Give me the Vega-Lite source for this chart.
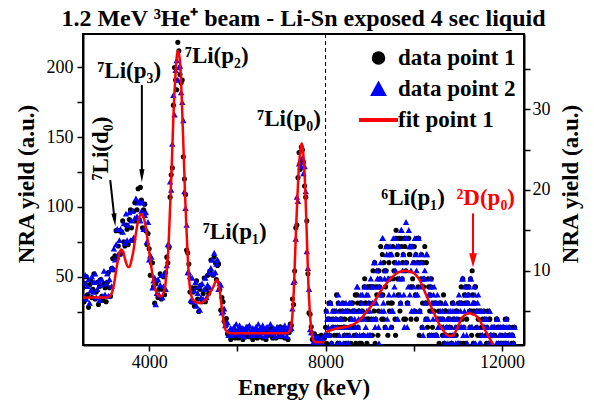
{
"$schema":"https://vega.github.io/schema/vega-lite/v6.json",
"width":441,"height":311,
"autosize":{"type":"none"},
"padding":{"left":83,"top":34,"right":70,"bottom":62},
"background":"white",
"title":{"text":"1.2 MeV ³He⁺ beam - Li-Sn exposed 4 sec liquid","font":"Liberation Serif","fontSize":24,"fontWeight":"bold","color":"black","anchor":"middle","offset":8,"baseline":"alphabetic","dy":24},
"config":{"font":"Liberation Serif","view":{"stroke":"black","strokeWidth":2},
"axis":{"domainColor":"black","domainWidth":2,"tickColor":"black","tickWidth":1.5,"labelColor":"black","labelFont":"Liberation Serif","labelFontSize":18,"titleFont":"Liberation Serif","titleFontSize":23,"titleFontWeight":"bold","titleColor":"black","grid":false,"labelOverlap":false,"labelFlush":false}},
"datasets":{
"L":[{"e":2500,"a":42,"b":37},{"e":2525,"a":32,"b":45},{"e":2550,"a":45,"b":51},{"e":2575,"a":50,"b":34},{"e":2600,"a":37,"b":43},{"e":2625,"a":28,"b":48},{"e":2650,"a":44,"b":31},{"e":2675,"a":47,"b":40},{"e":2700,"a":35,"b":50},{"e":2725,"a":41,"b":39},{"e":2750,"a":52,"b":46},{"e":2775,"a":34,"b":52},{"e":2800,"a":39,"b":35},{"e":2825,"a":46,"b":41},{"e":2850,"a":30,"b":47},{"e":2875,"a":43,"b":33},{"e":2900,"a":48,"b":44},{"e":2925,"a":36,"b":48},{"e":2950,"a":33,"b":36},{"e":2975,"a":45,"b":54},{"e":3000,"a":42,"b":37},{"e":3025,"a":32,"b":45},{"e":3050,"a":46,"b":52},{"e":3075,"a":53,"b":36},{"e":3100,"a":42,"b":48},{"e":3125,"a":36,"b":55},{"e":3150,"a":56,"b":43},{"e":3175,"a":63,"b":56},{"e":3200,"a":55,"b":70},{"e":3225,"a":65,"b":62},{"e":3250,"a":83,"b":73},{"e":3275,"a":63,"b":84},{"e":3300,"a":72,"b":66},{"e":3325,"a":83,"b":76},{"e":3350,"a":66,"b":84},{"e":3375,"a":82,"b":68},{"e":3400,"a":90,"b":82},{"e":3425,"a":75,"b":88},{"e":3450,"a":72,"b":74},{"e":3475,"a":87,"b":95},{"e":3500,"a":84,"b":76},{"e":3525,"a":73,"b":87},{"e":3550,"a":91,"b":96},{"e":3575,"a":98,"b":76},{"e":3600,"a":85,"b":90},{"e":3625,"a":76,"b":97},{"e":3650,"a":97,"b":78},{"e":3675,"a":103,"b":92},{"e":3700,"a":90,"b":106},{"e":3725,"a":98,"b":93},{"e":3750,"a":113,"b":103},{"e":3775,"a":91,"b":104},{"e":3800,"a":114,"b":90},{"e":3825,"a":105,"b":97},{"e":3850,"a":85,"b":103},{"e":3875,"a":98,"b":84},{"e":3900,"a":102,"b":94},{"e":3925,"a":83,"b":96},{"e":3950,"a":73,"b":75},{"e":3975,"a":81,"b":89},{"e":4000,"a":70,"b":62},{"e":4025,"a":51,"b":65},{"e":4050,"a":60,"b":64},{"e":4075,"a":60,"b":42},{"e":4100,"a":43,"b":47},{"e":4125,"a":31,"b":49},{"e":4150,"a":45,"b":30},{"e":4175,"a":47,"b":38},{"e":4200,"a":35,"b":48},{"e":4225,"a":41,"b":37},{"e":4250,"a":52,"b":44},{"e":4275,"a":34,"b":51},{"e":4300,"a":41,"b":35},{"e":4325,"a":50,"b":43},{"e":4350,"a":37,"b":52},{"e":4375,"a":53,"b":41},{"e":4400,"a":64,"b":58},{"e":4425,"a":60,"b":73},{"e":4450,"a":71,"b":73},{"e":4475,"a":107,"b":118},{"e":4500,"a":123,"b":112},{"e":4525,"a":128,"b":145},{"e":4550,"a":173,"b":180},{"e":4575,"a":200,"b":166},{"e":4600,"a":191,"b":198},{"e":4625,"a":184,"b":205},{"e":4650,"a":218,"b":191},{"e":4675,"a":212,"b":200},{"e":4700,"a":195,"b":201},{"e":4725,"a":189,"b":182},{"e":4750,"a":191,"b":175},{"e":4775,"a":136,"b":162},{"e":4800,"a":120,"b":111},{"e":4825,"a":109,"b":99},{"e":4850,"a":69,"b":87},{"e":4875,"a":67,"b":53},{"e":4900,"a":59,"b":53},{"e":4925,"a":39,"b":50},{"e":4950,"a":32,"b":33},{"e":4975,"a":42,"b":49},{"e":5000,"a":39,"b":32},{"e":5025,"a":29,"b":40},{"e":5050,"a":42,"b":46},{"e":5075,"a":47,"b":29},{"e":5100,"a":34,"b":38},{"e":5125,"a":25,"b":43},{"e":5150,"a":41,"b":26},{"e":5175,"a":44,"b":35},{"e":5200,"a":32,"b":45},{"e":5225,"a":38,"b":34},{"e":5250,"a":49,"b":41},{"e":5275,"a":32,"b":49},{"e":5300,"a":41,"b":35},{"e":5325,"a":51,"b":44},{"e":5350,"a":38,"b":53},{"e":5375,"a":54,"b":42},{"e":5400,"a":62,"b":56},{"e":5425,"a":52,"b":62},{"e":5450,"a":51,"b":52},{"e":5475,"a":64,"b":67},{"e":5500,"a":60,"b":53},{"e":5525,"a":48,"b":59},{"e":5550,"a":58,"b":62},{"e":5575,"a":59,"b":41},{"e":5600,"a":41,"b":45},{"e":5625,"a":26,"b":44},{"e":5650,"a":35,"b":24},{"e":5675,"a":32,"b":25},{"e":5700,"a":18,"b":27},{"e":5725,"a":17,"b":15},{"e":5750,"a":20,"b":16},{"e":5775,"a":9,"b":17},{"e":5800,"a":10,"b":8},{"e":5825,"a":11,"b":11},{"e":5850,"a":5,"b":13},{"e":5875,"a":10,"b":8},{"e":5900,"a":12,"b":12},{"e":5925,"a":8,"b":14},{"e":5950,"a":6,"b":9},{"e":5975,"a":11,"b":16},{"e":6000,"a":10,"b":9},{"e":6025,"a":6,"b":12},{"e":6050,"a":11,"b":15},{"e":6075,"a":13,"b":8},{"e":6100,"a":8,"b":12},{"e":6125,"a":5,"b":13},{"e":6150,"a":11,"b":7},{"e":6175,"a":12,"b":10},{"e":6200,"a":7,"b":14},{"e":6225,"a":9,"b":10},{"e":6250,"a":14,"b":13},{"e":6275,"a":7,"b":15},{"e":6300,"a":9,"b":8},{"e":6325,"a":11,"b":11},{"e":6350,"a":5,"b":13},{"e":6375,"a":10,"b":8},{"e":6400,"a":12,"b":12},{"e":6425,"a":8,"b":14},{"e":6450,"a":6,"b":9},{"e":6475,"a":11,"b":16},{"e":6500,"a":7,"b":12},{"e":6525,"a":10,"b":8},{"e":6550,"a":13,"b":13},{"e":6575,"a":6,"b":15},{"e":6600,"a":10,"b":10},{"e":6625,"a":11,"b":7},{"e":6650,"a":5,"b":13},{"e":6675,"a":8,"b":14},{"e":6700,"a":12,"b":9},{"e":6725,"a":8,"b":11},{"e":6750,"a":11,"b":16},{"e":6775,"a":13,"b":9},{"e":6800,"a":6,"b":11},{"e":6825,"a":9,"b":13},{"e":6850,"a":11,"b":7},{"e":6875,"a":6,"b":12},{"e":6900,"a":10,"b":14},{"e":6925,"a":12,"b":10},{"e":6950,"a":7,"b":8},{"e":6975,"a":14,"b":13},{"e":7000,"a":7,"b":12},{"e":7025,"a":10,"b":8},{"e":7050,"a":13,"b":13},{"e":7075,"a":6,"b":15},{"e":7100,"a":10,"b":10},{"e":7125,"a":11,"b":7},{"e":7150,"a":5,"b":13},{"e":7175,"a":10,"b":15},{"e":7200,"a":16,"b":12},{"e":7225,"a":15,"b":13},{"e":7250,"a":34,"b":27},{"e":7275,"a":30,"b":46},{"e":7300,"a":54,"b":47},{"e":7325,"a":85,"b":77},{"e":7350,"a":87,"b":107},{"e":7375,"a":121,"b":104},{"e":7400,"a":139,"b":131},{"e":7425,"a":127,"b":133},{"e":7450,"a":143,"b":129},{"e":7475,"a":141,"b":135},{"e":7500,"a":132,"b":124},{"e":7525,"a":115,"b":129},{"e":7550,"a":107,"b":111},{"e":7575,"a":90,"b":68},{"e":7600,"a":52,"b":56},{"e":7625,"a":24,"b":41},{"e":7650,"a":23,"b":12},{"e":7675,"a":14,"b":10},{"e":7700,"a":5,"b":10},{"e":7725,"a":5,"b":3},{"e":7750,"a":9,"b":5},{"e":7775,"a":3,"b":7},{"e":7800,"a":5,"b":2},{"e":7825,"a":7,"b":4},{"e":7850,"a":2,"b":6},{"e":7875,"a":6,"b":2},{"e":7900,"a":8,"b":5},{"e":7925,"a":4,"b":6},{"e":7950,"a":3,"b":2},{"e":7975,"a":6,"b":8}],
"R":[{"e":8000,"a":3,"b":2},{"e":8025,"a":1,"b":5},{"e":8050,"a":4,"b":2},{"e":8075,"a":6,"b":4},{"e":8100,"a":2,"b":6},{"e":8125,"a":0,"b":1},{"e":8150,"a":4,"b":3},{"e":8175,"a":5,"b":4},{"e":8200,"a":2,"b":0},{"e":8225,"a":3,"b":4},{"e":8250,"a":7,"b":5},{"e":8275,"a":1,"b":1},{"e":8300,"a":3,"b":6},{"e":8325,"a":5,"b":1},{"e":8350,"a":0,"b":4},{"e":8375,"a":4,"b":6},{"e":8400,"a":6,"b":1},{"e":8425,"a":2,"b":3},{"e":8450,"a":1,"b":5},{"e":8475,"a":5,"b":0},{"e":8500,"a":0,"b":5},{"e":8525,"a":5,"b":1},{"e":8550,"a":4,"b":2},{"e":8575,"a":1,"b":6},{"e":8600,"a":6,"b":4},{"e":8625,"a":5,"b":0},{"e":8650,"a":2,"b":5},{"e":8675,"a":7,"b":3},{"e":8700,"a":2,"b":2},{"e":8725,"a":6,"b":8},{"e":8750,"a":5,"b":4},{"e":8775,"a":1,"b":2},{"e":8800,"a":6,"b":7},{"e":8825,"a":4,"b":6},{"e":8850,"a":2,"b":0},{"e":8875,"a":8,"b":4},{"e":8900,"a":6,"b":8},{"e":8925,"a":4,"b":7},{"e":8950,"a":8,"b":2},{"e":8975,"a":4,"b":6},{"e":9000,"a":6,"b":5},{"e":9025,"a":2,"b":9},{"e":9050,"a":8,"b":4},{"e":9075,"a":10,"b":8},{"e":9100,"a":5,"b":11},{"e":9125,"a":1,"b":3},{"e":9150,"a":8,"b":6},{"e":9175,"a":10,"b":9},{"e":9200,"a":5,"b":3},{"e":9225,"a":8,"b":8},{"e":9250,"a":13,"b":11},{"e":9275,"a":4,"b":5},{"e":9300,"a":7,"b":14},{"e":9325,"a":11,"b":5},{"e":9350,"a":3,"b":10},{"e":9375,"a":10,"b":13},{"e":9400,"a":13,"b":4},{"e":9425,"a":6,"b":9},{"e":9450,"a":5,"b":12},{"e":9475,"a":12,"b":3},{"e":9500,"a":3,"b":12},{"e":9525,"a":13,"b":5},{"e":9550,"a":10,"b":7},{"e":9575,"a":4,"b":14},{"e":9600,"a":15,"b":11},{"e":9625,"a":12,"b":4},{"e":9650,"a":7,"b":13},{"e":9675,"a":14,"b":9},{"e":9700,"a":6,"b":6},{"e":9725,"a":13,"b":15},{"e":9750,"a":11,"b":10},{"e":9775,"a":4,"b":7},{"e":9800,"a":13,"b":14},{"e":9825,"a":10,"b":16},{"e":9850,"a":6,"b":3},{"e":9875,"a":14,"b":8},{"e":9900,"a":12,"b":13},{"e":9925,"a":8,"b":13},{"e":9950,"a":13,"b":5},{"e":9975,"a":9,"b":11},{"e":10000,"a":11,"b":8},{"e":10025,"a":5,"b":14},{"e":10050,"a":12,"b":7},{"e":10075,"a":14,"b":11},{"e":10100,"a":8,"b":14},{"e":10125,"a":2,"b":5},{"e":10150,"a":11,"b":8},{"e":10175,"a":12,"b":11},{"e":10200,"a":6,"b":3},{"e":10225,"a":8,"b":9},{"e":10250,"a":13,"b":10},{"e":10275,"a":4,"b":4},{"e":10300,"a":6,"b":12},{"e":10325,"a":9,"b":4},{"e":10350,"a":2,"b":7},{"e":10375,"a":7,"b":9},{"e":10400,"a":9,"b":2},{"e":10425,"a":3,"b":5},{"e":10450,"a":2,"b":7},{"e":10475,"a":6,"b":0},{"e":10500,"a":0,"b":6},{"e":10525,"a":6,"b":2},{"e":10550,"a":4,"b":3},{"e":10575,"a":1,"b":6},{"e":10600,"a":6,"b":4},{"e":10625,"a":4,"b":0},{"e":10650,"a":2,"b":5},{"e":10675,"a":7,"b":3},{"e":10700,"a":1,"b":1},{"e":10725,"a":5,"b":6},{"e":10750,"a":3,"b":3},{"e":10775,"a":0,"b":1},{"e":10800,"a":4,"b":5},{"e":10825,"a":2,"b":4},{"e":10850,"a":1,"b":0},{"e":10875,"a":6,"b":2},{"e":10900,"a":4,"b":6},{"e":10925,"a":2,"b":4},{"e":10950,"a":5,"b":1},{"e":10975,"a":3,"b":4},{"e":11000,"a":4,"b":3},{"e":11025,"a":1,"b":7},{"e":11050,"a":6,"b":3},{"e":11075,"a":8,"b":6},{"e":11100,"a":4,"b":9},{"e":11125,"a":1,"b":2},{"e":11150,"a":7,"b":5},{"e":11175,"a":8,"b":7},{"e":11200,"a":4,"b":2},{"e":11225,"a":6,"b":6},{"e":11250,"a":8,"b":8},{"e":11275,"a":3,"b":3},{"e":11300,"a":5,"b":9},{"e":11325,"a":10,"b":3},{"e":11350,"a":1,"b":6},{"e":11375,"a":6,"b":8},{"e":11400,"a":8,"b":1},{"e":11425,"a":3,"b":5},{"e":11450,"a":2,"b":6},{"e":11475,"a":5,"b":0},{"e":11500,"a":0,"b":5},{"e":11525,"a":5,"b":1},{"e":11550,"a":3,"b":2},{"e":11575,"a":0,"b":5},{"e":11600,"a":5,"b":3},{"e":11625,"a":3,"b":0},{"e":11650,"a":1,"b":4},{"e":11675,"a":5,"b":2},{"e":11700,"a":1,"b":0},{"e":11725,"a":4,"b":5},{"e":11750,"a":2,"b":2},{"e":11775,"a":0,"b":1},{"e":11800,"a":3,"b":3},{"e":11825,"a":2,"b":3},{"e":11850,"a":0,"b":0},{"e":11875,"a":4,"b":1},{"e":11900,"a":3,"b":4},{"e":11925,"a":1,"b":3},{"e":11950,"a":3,"b":0},{"e":11975,"a":1,"b":2},{"e":12000,"a":2,"b":1},{"e":12025,"a":0,"b":3},{"e":12050,"a":3,"b":1},{"e":12075,"a":4,"b":2},{"e":12100,"a":1,"b":4},{"e":12125,"a":0,"b":0},{"e":12150,"a":2,"b":1},{"e":12175,"a":3,"b":2},{"e":12200,"a":0,"b":0},{"e":12225,"a":1,"b":2},{"e":12250,"a":3,"b":2},{"e":12275,"a":0,"b":0},
{"e":8012.5,"a":5,"b":0},{"e":8037.5,"a":2,"b":4},{"e":8062.5,"a":0,"b":3},{"e":8087.5,"a":4,"b":2},{"e":8112.5,"a":6,"b":6},{"e":8137.5,"a":1,"b":1},{"e":8162.5,"a":3,"b":5},{"e":8187.5,"a":0,"b":3},{"e":8212.5,"a":5,"b":0},{"e":8237.5,"a":4,"b":4},{"e":8262.5,"a":2,"b":3},{"e":8287.5,"a":6,"b":7},{"e":8312.5,"a":1,"b":2},{"e":8337.5,"a":4,"b":4},{"e":8362.5,"a":3,"b":0},{"e":8387.5,"a":5,"b":5},{"e":8412.5,"a":0,"b":3},{"e":8437.5,"a":4,"b":2},{"e":8462.5,"a":3,"b":6},{"e":8487.5,"a":2,"b":1},{"e":8512.5,"a":2,"b":1},{"e":8537.5,"a":3,"b":6},{"e":8562.5,"a":4,"b":3},{"e":8587.5,"a":0,"b":4},{"e":8612.5,"a":6,"b":5},{"e":8637.5,"a":3,"b":0},{"e":8662.5,"a":5,"b":4},{"e":8687.5,"a":1,"b":2},{"e":8712.5,"a":7,"b":8},{"e":8737.5,"a":3,"b":3},{"e":8762.5,"a":5,"b":5},{"e":8787.5,"a":6,"b":0},{"e":8812.5,"a":1,"b":5},{"e":8837.5,"a":5,"b":7},{"e":8862.5,"a":2,"b":2},{"e":8887.5,"a":9,"b":8},{"e":8912.5,"a":6,"b":3},{"e":8937.5,"a":1,"b":5},{"e":8962.5,"a":4,"b":7},{"e":8987.5,"a":8,"b":2},{"e":9012.5,"a":8,"b":2},{"e":9037.5,"a":4,"b":8},{"e":9062.5,"a":2,"b":6},{"e":9087.5,"a":8,"b":4},{"e":9112.5,"a":11,"b":11},{"e":9137.5,"a":4,"b":4},{"e":9162.5,"a":7,"b":10},{"e":9187.5,"a":2,"b":8},{"e":9212.5,"a":10,"b":1},{"e":9237.5,"a":9,"b":9},{"e":9262.5,"a":7,"b":7},{"e":9287.5,"a":12,"b":14},{"e":9312.5,"a":4,"b":6},{"e":9337.5,"a":10,"b":9},{"e":9362.5,"a":8,"b":3},{"e":9387.5,"a":13,"b":12},{"e":9412.5,"a":2,"b":9},{"e":9437.5,"a":11,"b":7},{"e":9462.5,"a":9,"b":13},{"e":9487.5,"a":6,"b":5},{"e":9512.5,"a":6,"b":5},{"e":9537.5,"a":9,"b":14},{"e":9562.5,"a":11,"b":8},{"e":9587.5,"a":2,"b":10},{"e":9612.5,"a":14,"b":13},{"e":9637.5,"a":9,"b":4},{"e":9662.5,"a":13,"b":11},{"e":9687.5,"a":5,"b":7},{"e":9712.5,"a":14,"b":15},{"e":9737.5,"a":9,"b":9},{"e":9762.5,"a":12,"b":12},{"e":9787.5,"a":14,"b":3},{"e":9812.5,"a":4,"b":11},{"e":9837.5,"a":11,"b":14},{"e":9862.5,"a":6,"b":6},{"e":9887.5,"a":14,"b":15},{"e":9912.5,"a":12,"b":7},{"e":9937.5,"a":4,"b":10},{"e":9962.5,"a":8,"b":13},{"e":9987.5,"a":13,"b":5},{"e":10012.5,"a":13,"b":5},{"e":10037.5,"a":7,"b":12},{"e":10062.5,"a":4,"b":10},{"e":10087.5,"a":11,"b":7},{"e":10112.5,"a":14,"b":14},{"e":10137.5,"a":5,"b":5},{"e":10162.5,"a":9,"b":12},{"e":10187.5,"a":3,"b":9},{"e":10212.5,"a":11,"b":2},{"e":10237.5,"a":9,"b":9},{"e":10262.5,"a":6,"b":6},{"e":10287.5,"a":11,"b":12},{"e":10312.5,"a":3,"b":4},{"e":10337.5,"a":8,"b":7},{"e":10362.5,"a":5,"b":2},{"e":10387.5,"a":8,"b":8},{"e":10412.5,"a":0,"b":6},{"e":10437.5,"a":6,"b":4},{"e":10462.5,"a":5,"b":8},{"e":10487.5,"a":2,"b":2},{"e":10512.5,"a":2,"b":2},{"e":10537.5,"a":4,"b":7},{"e":10562.5,"a":5,"b":3},{"e":10587.5,"a":0,"b":4},{"e":10612.5,"a":6,"b":5},{"e":10637.5,"a":3,"b":0},{"e":10662.5,"a":4,"b":4},{"e":10687.5,"a":1,"b":2},{"e":10712.5,"a":5,"b":6},{"e":10737.5,"a":2,"b":2},{"e":10762.5,"a":3,"b":4},{"e":10787.5,"a":4,"b":0},{"e":10812.5,"a":0,"b":3},{"e":10837.5,"a":3,"b":5},{"e":10862.5,"a":1,"b":1},{"e":10887.5,"a":6,"b":5},{"e":10912.5,"a":4,"b":2},{"e":10937.5,"a":0,"b":3},{"e":10962.5,"a":2,"b":5},{"e":10987.5,"a":5,"b":1},{"e":11012.5,"a":6,"b":1},{"e":11037.5,"a":3,"b":6},{"e":11062.5,"a":1,"b":5},{"e":11087.5,"a":6,"b":3},{"e":11112.5,"a":9,"b":9},{"e":11137.5,"a":3,"b":3},{"e":11162.5,"a":6,"b":8},{"e":11187.5,"a":1,"b":6},{"e":11212.5,"a":8,"b":1},{"e":11237.5,"a":7,"b":7},{"e":11262.5,"a":5,"b":5},{"e":11287.5,"a":9,"b":9},{"e":11312.5,"a":2,"b":3},{"e":11337.5,"a":7,"b":6},{"e":11362.5,"a":5,"b":1},{"e":11387.5,"a":8,"b":7},{"e":11412.5,"a":0,"b":5},{"e":11437.5,"a":5,"b":3},{"e":11462.5,"a":4,"b":7},{"e":11487.5,"a":2,"b":1},{"e":11512.5,"a":2,"b":1},{"e":11537.5,"a":3,"b":5},{"e":11562.5,"a":4,"b":2},{"e":11587.5,"a":0,"b":3},{"e":11612.5,"a":4,"b":4},{"e":11637.5,"a":2,"b":0},{"e":11662.5,"a":3,"b":3},{"e":11687.5,"a":0,"b":1},{"e":11712.5,"a":4,"b":5},{"e":11737.5,"a":1,"b":2},{"e":11762.5,"a":2,"b":3},{"e":11787.5,"a":3,"b":0},{"e":11812.5,"a":0,"b":2},{"e":11837.5,"a":2,"b":3},{"e":11862.5,"a":0,"b":0},{"e":11887.5,"a":4,"b":4},{"e":11912.5,"a":3,"b":1},{"e":11937.5,"a":0,"b":2},{"e":11962.5,"a":1,"b":3},{"e":11987.5,"a":3,"b":0},{"e":12012.5,"a":3,"b":0},{"e":12037.5,"a":1,"b":3},{"e":12062.5,"a":0,"b":2},{"e":12087.5,"a":2,"b":1},{"e":12112.5,"a":4,"b":3},{"e":12137.5,"a":0,"b":0},{"e":12162.5,"a":2,"b":3},{"e":12187.5,"a":0,"b":2},{"e":12212.5,"a":2,"b":0},{"e":12237.5,"a":2,"b":2},{"e":12262.5,"a":1,"b":1},{"e":12287.5,"a":3,"b":3}],
"FL":[{"e":2500,"v":35},{"e":3000,"v":35},{"e":3080,"v":35.5},{"e":3150,"v":38},{"e":3200,"v":44},{"e":3250,"v":54},{"e":3300,"v":63},{"e":3360,"v":69.5},{"e":3410,"v":68},{"e":3458,"v":62},{"e":3520,"v":57},{"e":3556,"v":57},{"e":3600,"v":62},{"e":3646,"v":69},{"e":3700,"v":81},{"e":3737,"v":88},{"e":3780,"v":93},{"e":3820,"v":95},{"e":3860,"v":93.5},{"e":3910,"v":88},{"e":3950,"v":80},{"e":3986,"v":71.6},{"e":4030,"v":61},{"e":4084,"v":50},{"e":4130,"v":42},{"e":4175,"v":38},{"e":4230,"v":36},{"e":4273,"v":36},{"e":4320,"v":38},{"e":4363,"v":43},{"e":4400,"v":55},{"e":4439,"v":72},{"e":4475,"v":100},{"e":4514,"v":131},{"e":4550,"v":165},{"e":4590,"v":191},{"e":4620,"v":206},{"e":4650,"v":212},{"e":4680,"v":209},{"e":4703,"v":203},{"e":4740,"v":177},{"e":4778,"v":143},{"e":4815,"v":108},{"e":4854,"v":79},{"e":4885,"v":58},{"e":4914,"v":45},{"e":4960,"v":36},{"e":5005,"v":33},{"e":5080,"v":31.5},{"e":5155,"v":31},{"e":5230,"v":32},{"e":5307,"v":34.5},{"e":5380,"v":38.5},{"e":5458,"v":43},{"e":5500,"v":46},{"e":5533,"v":47.7},{"e":5570,"v":45},{"e":5609,"v":38},{"e":5645,"v":28},{"e":5684,"v":19},{"e":5720,"v":13},{"e":5760,"v":10.6},{"e":5810,"v":9.6},{"e":5910,"v":9.4},{"e":7118,"v":9.4},{"e":7180,"v":11},{"e":7231,"v":16.6},{"e":7280,"v":40},{"e":7330,"v":83.5},{"e":7380,"v":120},{"e":7420,"v":138},{"e":7458,"v":145.6},{"e":7490,"v":140},{"e":7520,"v":127},{"e":7571,"v":83.5},{"e":7610,"v":45},{"e":7646,"v":23.7},{"e":7690,"v":9},{"e":7730,"v":4},{"e":7780,"v":3},{"e":7990,"v":3}],
"FR":[{"e":8000,"v":2.4},{"e":8100,"v":2.6},{"e":8300,"v":2.9},{"e":8476,"v":3.07},{"e":8650,"v":3.4},{"e":8778,"v":3.9},{"e":8900,"v":4.7},{"e":9080,"v":5.95},{"e":9230,"v":7.3},{"e":9381,"v":8.42},{"e":9500,"v":9.15},{"e":9608,"v":9.66},{"e":9700,"v":9.9},{"e":9796,"v":10},{"e":9900,"v":9.9},{"e":9985,"v":9.74},{"e":10060,"v":9.4},{"e":10136,"v":8.84},{"e":10250,"v":7.4},{"e":10362,"v":5.95},{"e":10480,"v":4.5},{"e":10589,"v":3.27},{"e":10670,"v":2.6},{"e":10740,"v":2.12},{"e":10810,"v":1.9},{"e":10876,"v":1.91},{"e":10940,"v":2.4},{"e":11004,"v":3.07},{"e":11060,"v":3.8},{"e":11117,"v":4.3},{"e":11190,"v":4.62},{"e":11268,"v":4.72},{"e":11340,"v":4.6},{"e":11419,"v":4.39},{"e":11500,"v":3.8},{"e":11570,"v":3.07},{"e":11650,"v":2.3},{"e":11721,"v":1.62},{"e":11780,"v":1.0},{"e":11834,"v":0.3},{"e":11870,"v":-0.3}],
"AT":[{"t":"⁷Li(p₃)","e":3548,"y":197.5},{"t":"⁷Li(p₂)","e":5534,"y":208.4},{"t":"⁷Li(p₁)","e":5941,"y":81.7},{"t":"⁷Li(p₀)","e":7173,"y":163},{"t":"⁶Li(p₁)","e":9985,"y":106.2}],
"AR":[{"t":"⁷Li(d₀)","e":2903,"y":141.9}],
"AD":[{"t":"²D(p₀)","e":11631,"y":106.2}],
"AK":[{"e":3118,"y":119.3,"e2":3217,"y2":90.6},{"e":3835,"y":187.4,"e2":3835,"y2":122.4}],
"HK":[{"e":3217,"y":90.6,"ang":-6.2},{"e":3835,"y":122.4,"ang":0}],
"AKR":[{"e":11344,"y":95.4,"e2":11344,"y2":61.7}],
"HR":[{"e":11344,"y":61.7,"ang":0}],
"V":[{"e":8000}]
},
"layer":[
{"layer":[
{"data":{"name":"L"},"mark":{"type":"point","filled":true,"size":26,"opacity":1,"clip":true},
"encoding":{
"x":{"field":"e","type":"quantitative","scale":{"domain":[2500,12500],"nice":false,"zero":false},
"axis":{"values":[4000,6000,8000,10000,12000],"format":"d","labelExpr":"datum.value % 4000 === 0 ? datum.label : ''","title":"Energy (keV)","tickSize":6,"labelPadding":2,"titleY":49,"titleBaseline":"alphabetic","encode":{"ticks":{"y2":{"condition":{"test":"datum.value % 4000 !== 0","value":3},"value":6}}}}},
"y":{"field":"a","type":"quantitative","scale":{"domain":[1,224],"nice":false,"zero":false},
"axis":{"values":[25,50,75,100,125,150,175,200],"labelExpr":"datum.value % 50 === 0 ? datum.label : ''","title":"NRA yield (a.u.)","tickSize":6,"labelPadding":4,"titleAngle":270,"titleX":-50,"titleY":149.5,"titleAlign":"center","titleBaseline":"alphabetic","encode":{"ticks":{"x2":{"condition":{"test":"datum.value % 50 !== 0","value":-3},"value":-6}}}}},
"color":{"datum":"a","type":"nominal","scale":{"domain":["a","b","f"],"range":["black","blue","red"]},
"legend":{"orient":"none","legendX":284,"legendY":12.5,"title":null,"padding":0,"rowPadding":7,"labelOffset":8,"symbolSize":182,"symbolStrokeWidth":0,"labelFont":"Liberation Serif","labelFontSize":23,"labelFontWeight":"bold","labelColor":"black","labelLimit":300,
"labelExpr":"datum.value === 'a' ? 'data point 1' : datum.value === 'b' ? 'data point 2' : 'fit point 1'"}},
"shape":{"datum":"a","type":"nominal","scale":{"domain":["a","b","f"],"range":["circle","M0,-1.25L1.25,1.05H-1.25Z","M-2.9,-0.28H2.9V0.28H-2.9Z"]}}}},
{"data":{"name":"L"},"mark":{"type":"point","filled":true,"size":26,"opacity":1,"clip":true},
"encoding":{"x":{"field":"e","type":"quantitative"},"y":{"field":"b","type":"quantitative"},"color":{"datum":"b","type":"nominal"},"shape":{"datum":"b","type":"nominal"}}},
{"data":{"name":"FL"},"mark":{"type":"line","strokeWidth":2.5,"interpolate":"monotone","clip":true},
"encoding":{"x":{"field":"e","type":"quantitative"},"y":{"field":"v","type":"quantitative"},"color":{"datum":"f","type":"nominal"}}},
{"data":{"name":"V"},"mark":{"type":"rule","strokeDash":[4,3],"strokeWidth":1,"color":"black"},"encoding":{"x":{"field":"e","type":"quantitative"}}},
{"data":{"name":"AK"},"mark":{"type":"rule","strokeWidth":2,"color":"black"},"encoding":{"x":{"field":"e","type":"quantitative"},"y":{"field":"y","type":"quantitative"},"x2":{"field":"e2"},"y2":{"field":"y2"}}},
{"data":{"name":"HK"},"mark":{"type":"point","shape":"M-0.4,-1L0.4,-1L0,1Z","filled":true,"size":169,"opacity":1,"color":"black"},"encoding":{"x":{"field":"e","type":"quantitative"},"y":{"field":"y","type":"quantitative"},"angle":{"field":"ang","type":"quantitative","scale":null}}},
{"data":{"name":"AKR"},"mark":{"type":"rule","strokeWidth":2,"color":"red"},"encoding":{"x":{"field":"e","type":"quantitative"},"y":{"field":"y","type":"quantitative"},"x2":{"field":"e2"},"y2":{"field":"y2"}}},
{"data":{"name":"HR"},"mark":{"type":"point","shape":"M-0.55,-1L0.55,-1L0,1Z","filled":true,"size":196,"opacity":1,"color":"red"},"encoding":{"x":{"field":"e","type":"quantitative"},"y":{"field":"y","type":"quantitative"},"angle":{"field":"ang","type":"quantitative","scale":null}}},
{"data":{"name":"AT"},"mark":{"type":"text","font":"Liberation Serif","fontSize":23,"fontWeight":"bold","align":"center","baseline":"middle","color":"black"},"encoding":{"x":{"field":"e","type":"quantitative"},"y":{"field":"y","type":"quantitative"},"text":{"field":"t"}}},
{"data":{"name":"AR"},"mark":{"type":"text","font":"Liberation Serif","fontSize":23,"fontWeight":"bold","align":"center","baseline":"middle","color":"black","angle":270},"encoding":{"x":{"field":"e","type":"quantitative"},"y":{"field":"y","type":"quantitative"},"text":{"field":"t"}}},
{"data":{"name":"AD"},"mark":{"type":"text","font":"Liberation Serif","fontSize":23,"fontWeight":"bold","align":"center","baseline":"middle","color":"red"},"encoding":{"x":{"field":"e","type":"quantitative"},"y":{"field":"y","type":"quantitative"},"text":{"field":"t"}}}
]},
{"layer":[
{"data":{"name":"R"},"transform":[{"filter":"datum.a > 0"}],"mark":{"type":"point","filled":true,"size":26,"opacity":1,"clip":true},
"encoding":{"x":{"field":"e","type":"quantitative"},
"y":{"field":"a","type":"quantitative","scale":{"domain":[0.8,39.3],"nice":false,"zero":false},
"axis":{"orient":"right","values":[5,10,15,20,25,30,35],"labelExpr":"datum.value % 10 === 0 ? datum.label : ''","title":"NRA yield (a.u.)","tickSize":6,"labelPadding":2,"titleAngle":270,"titleX":53,"titleY":149.5,"titleAlign":"center","titleBaseline":"alphabetic","encode":{"ticks":{"x2":{"condition":{"test":"datum.value % 10 !== 0","value":3},"value":6}}}}},
"color":{"datum":"a","type":"nominal"},"shape":{"datum":"a","type":"nominal"}}},
{"data":{"name":"R"},"transform":[{"filter":"datum.b > 0"}],"mark":{"type":"point","filled":true,"size":26,"opacity":1,"clip":true},
"encoding":{"x":{"field":"e","type":"quantitative"},"y":{"field":"b","type":"quantitative"},"color":{"datum":"b","type":"nominal"},"shape":{"datum":"b","type":"nominal"}}},
{"data":{"name":"FR"},"mark":{"type":"line","strokeWidth":2.5,"interpolate":"monotone","clip":true},
"encoding":{"x":{"field":"e","type":"quantitative"},"y":{"field":"v","type":"quantitative"},"color":{"datum":"f","type":"nominal"}}}
]}
],
"resolve":{"scale":{"y":"independent"},"axis":{"y":"independent"}}
}
